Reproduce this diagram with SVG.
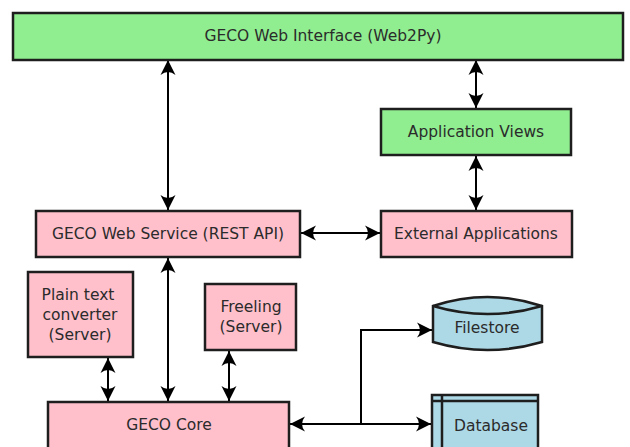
<svg xmlns="http://www.w3.org/2000/svg" width="630" height="447" viewBox="0 0 630 447">
  <style>
    .box { stroke: #1e1e1e; stroke-width: 2.5; }
    .green { fill: #90ee90; }
    .pink { fill: #ffc0cb; }
    .blue { fill: #add8e6; }
    .lbl { font-family: "DejaVu Sans", sans-serif; font-size: 15.5px; fill: #2b2b2b; text-anchor: middle; dominant-baseline: central; }
    .conn { stroke: #000; stroke-width: 2; fill: none; }
  </style>
  <defs>
    <marker id="arr" markerUnits="userSpaceOnUse" viewBox="-16 -9 18 18" refX="0" refY="0" markerWidth="18" markerHeight="18" orient="auto-start-reverse">
      <path d="M0,0 L-15,-7.5 Q-9,0 -15,7.5 Z" fill="#000"/>
    </marker>
  </defs>
  <rect width="630" height="447" fill="#fff"/>

  <g id="connectors">
    <line class="conn" x1="168" y1="60" x2="168" y2="210" marker-start="url(#arr)" marker-end="url(#arr)"/>
    <line class="conn" x1="476" y1="60" x2="476" y2="108" marker-start="url(#arr)" marker-end="url(#arr)"/>
    <line class="conn" x1="476" y1="156" x2="476" y2="210" marker-start="url(#arr)" marker-end="url(#arr)"/>
    <line class="conn" x1="301" y1="233" x2="380" y2="233" marker-start="url(#arr)" marker-end="url(#arr)"/>
    <line class="conn" x1="168" y1="258" x2="168" y2="401" marker-start="url(#arr)" marker-end="url(#arr)"/>
    <line class="conn" x1="108" y1="358" x2="108" y2="401" marker-start="url(#arr)" marker-end="url(#arr)"/>
    <line class="conn" x1="229" y1="351" x2="229" y2="401" marker-start="url(#arr)" marker-end="url(#arr)"/>
    <line class="conn" x1="290" y1="424" x2="431" y2="424" marker-start="url(#arr)" marker-end="url(#arr)"/>
    <path class="conn" d="M361,424 L361,330 L432,330" marker-end="url(#arr)"/>
  </g>

  <g id="web-interface">
    <rect class="box green" x="13" y="13" width="610" height="47"/>
    <text class="lbl" x="323" y="36">GECO Web Interface (Web2Py)</text>
  </g>
  <g id="application-views">
    <rect class="box green" x="381" y="109" width="190" height="46"/>
    <text class="lbl" x="476" y="132">Application Views</text>
  </g>
  <g id="web-service">
    <rect class="box pink" x="36" y="211" width="264" height="46"/>
    <text class="lbl" x="168" y="234">GECO Web Service (REST API)</text>
  </g>
  <g id="external-applications">
    <rect class="box pink" x="381" y="211" width="191" height="46"/>
    <text class="lbl" x="476" y="234">External Applications</text>
  </g>
  <g id="plain-text-converter">
    <rect class="box pink" x="28" y="272" width="105" height="85"/>
    <text class="lbl" x="78" y="295">Plain text</text>
    <text class="lbl" x="80" y="315">converter</text>
    <text class="lbl" x="80" y="335">(Server)</text>
  </g>
  <g id="freeling">
    <rect class="box pink" x="205" y="284" width="91" height="66"/>
    <text class="lbl" x="251" y="307">Freeling</text>
    <text class="lbl" x="251" y="327">(Server)</text>
  </g>
  <g id="geco-core">
    <rect class="box pink" x="48" y="402" width="241" height="60"/>
    <text class="lbl" x="169" y="425">GECO Core</text>
  </g>
  <g id="filestore">
    <path class="box blue" d="M433,306 Q487.5,288 542,306 L542,342 Q487.5,358 433,342 Z"/>
    <path class="box" fill="none" d="M433,306 Q487.5,322 542,306"/>
    <text class="lbl" x="487" y="328">Filestore</text>
  </g>
  <g id="database">
    <rect class="box blue" x="432" y="395" width="106" height="70"/>
    <line class="box" x1="432" y1="401" x2="538" y2="401"/>
    <line class="box" x1="442" y1="395" x2="442" y2="465"/>
    <text class="lbl" x="491" y="426">Database</text>
  </g>
</svg>
